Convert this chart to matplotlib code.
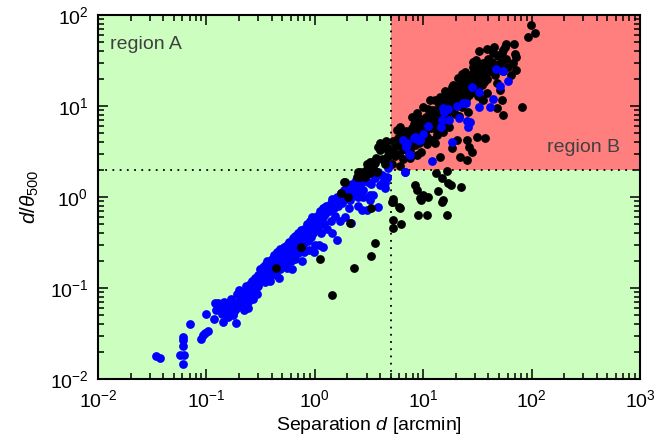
import numpy as np
import matplotlib
matplotlib.use("Agg")
import matplotlib.pyplot as plt
from matplotlib.patches import Rectangle

plt.rcParams['font.family'] = ['Liberation Sans', 'DejaVu Sans']
plt.rcParams['mathtext.fontset'] = 'custom'
plt.rcParams['mathtext.rm'] = 'Liberation Sans'
plt.rcParams['mathtext.it'] = 'Liberation Sans:italic'
plt.rcParams['mathtext.bf'] = 'Liberation Sans:bold'

# ---------------- data ----------------
sep_cut = 5.0
ratio_cut = 2.0
x_range = (1e-2, 1e3)
y_range = (1e-2, 1e2)

# blue sample: low-separation end
blue_low_x = [0.0343, 0.0373, 0.0604, 0.057, 0.062, 0.0604, 0.0612, 0.0612, 0.0701, 0.0886, 0.0925, 0.097,
              0.104, 0.099, 0.117, 0.123, 0.135, 0.129, 0.120, 0.143, 0.154, 0.171, 0.188, 0.177]
blue_low_y = [0.0179, 0.0170, 0.0145, 0.0184, 0.0184, 0.0232, 0.0292, 0.0268, 0.0402, 0.0273, 0.0305, 0.0323,
              0.0334, 0.0518, 0.0456, 0.0573, 0.0623, 0.0689, 0.0689, 0.0426, 0.0527, 0.0598, 0.0409, 0.0505]

# blue sample: main band
blue_band_x = [0.13, 0.14, 0.145, 0.15, 0.16, 0.158,
               0.17, 0.18, 0.185, 0.19, 0.2, 0.195, 0.175, 0.2,
               0.21, 0.215, 0.22, 0.225, 0.23, 0.235, 0.24, 0.245, 0.25, 0.25, 0.22, 0.24,
               0.26, 0.265, 0.27, 0.275, 0.28, 0.285, 0.29, 0.3, 0.3, 0.31, 0.31, 0.32, 0.27, 0.29,
               0.33, 0.34, 0.34, 0.35, 0.36, 0.36, 0.37, 0.38, 0.38, 0.39, 0.4, 0.4, 0.35, 0.39,
               0.41, 0.42, 0.43, 0.44, 0.45, 0.46, 0.47, 0.48, 0.48, 0.5, 0.5, 0.44, 0.47,
               0.52, 0.53, 0.54, 0.55, 0.56, 0.58, 0.58, 0.6, 0.6, 0.62, 0.63, 0.55, 0.62,
               0.65, 0.66, 0.68, 0.7, 0.7, 0.72, 0.74, 0.75, 0.77, 0.78, 0.8, 0.8, 0.66, 0.76,
               0.83, 0.85, 0.86, 0.88, 0.9, 0.92, 0.93, 0.95, 0.97, 1.0, 1.0, 0.88, 0.98,
               1.05, 1.07, 1.1, 1.12, 1.15, 1.18, 1.2, 1.22, 1.25, 1.28, 1.3, 1.1, 1.2,
               1.35, 1.4, 1.42, 1.45, 1.5, 1.55, 1.6, 1.62, 1.68, 1.45, 1.7, 1.6,
               1.75, 1.8, 1.85, 1.9, 2.0, 2.05, 2.1, 2.2, 1.9, 2.15,
               2.3, 2.4, 2.5, 2.6, 2.7, 2.8, 2.9, 2.5, 2.75,
               3.1, 3.3, 3.4, 3.6, 3.8, 4.0, 4.2, 3.2, 4.4]
blue_band_y = [0.060, 0.052, 0.070, 0.058, 0.065, 0.048,
               0.075, 0.068, 0.058, 0.085, 0.072, 0.062, 0.052, 0.095,
               0.08, 0.066, 0.09, 0.075, 0.105, 0.085, 0.07, 0.095, 0.11, 0.08, 0.058, 0.06,
               0.10, 0.12, 0.09, 0.11, 0.13, 0.10, 0.12, 0.14, 0.105, 0.16, 0.125, 0.14, 0.075, 0.085,
               0.17, 0.13, 0.15, 0.18, 0.14, 0.2, 0.16, 0.19, 0.13, 0.17, 0.21, 0.15, 0.115, 0.12,
               0.18, 0.23, 0.16, 0.2, 0.25, 0.18, 0.22, 0.27, 0.16, 0.21, 0.24, 0.14, 0.13,
               0.28, 0.19, 0.25, 0.3, 0.22, 0.27, 0.32, 0.2, 0.25, 0.3, 0.35, 0.165, 0.16,
               0.27, 0.37, 0.31, 0.24, 0.4, 0.33, 0.28, 0.43, 0.36, 0.3, 0.45, 0.25, 0.21, 0.2,
               0.38, 0.5, 0.33, 0.42, 0.55, 0.36, 0.46, 0.6, 0.4, 0.5, 0.3, 0.26, 0.25,
               0.62, 0.45, 0.55, 0.7, 0.4, 0.6, 0.75, 0.5, 0.65, 0.8, 0.45, 0.3, 0.28,
               0.7, 0.85, 0.55, 0.95, 0.75, 0.62, 1.0, 0.8, 0.9, 0.4, 0.55, 0.34,
               1.1, 0.85, 1.2, 0.95, 1.3, 0.75, 1.1, 1.4, 0.6, 0.52,
               1.2, 1.55, 1.0, 1.35, 1.7, 1.2, 1.5, 0.8, 0.72,
               1.8, 1.4, 2.1, 1.6, 1.9, 1.35, 1.75, 1.05, 1.25]

# blue sample: near the cut corner
blue_corner_x = [2.35, 2.52, 2.11, 2.26, 2.8, 3.23, 3.47, 3.86, 3.0, 4.73, 6.79, 4.6, 4.26, 3.1,
                 6.5, 8.4, 9.3, 7.0, 7.6]
blue_corner_y = [1.19, 1.14, 0.93, 1.05, 1.0, 0.93, 1.05, 0.78, 0.72, 2.25, 1.90, 1.67, 1.47, 1.47,
                 4.2, 4.6, 4.2, 3.7, 2.9]

# blue sample: large separations
blue_high_x = [47.0, 54.8, 61, 51, 43.8, 32.4, 28, 32.7, 41.3, 23.1, 24.8, 20.4, 17.1, 15.1, 15.6,
               14.8, 17.4, 21.4, 25.2, 27, 26, 14.5, 11.1, 10.0, 8.3, 9.0, 7.1, 6.9, 7.4, 12.1,
               18.5, 6.8, 4.76, 4.44, 4.6]
blue_high_y = [25.5, 24.4, 18.8, 16.7, 11.9, 14.3, 16.3, 9.75, 9.7, 10.9, 10.7, 10.0, 9.2, 9.6, 8.65,
               7.0, 7.0, 7.3, 6.9, 6.6, 5.9, 5.9, 6.0, 4.9, 4.5, 4.2, 3.95, 3.57, 2.97, 2.49,
               4.05, 1.90, 2.07, 1.44, 1.6]

# black sample: main cluster (large separations)
black_main_x = [5.1, 5.3, 5.5, 5.6, 5.8, 6.0, 6.2, 6.4, 6.5, 6.7, 6.9, 7.0, 5.2, 6.1,
                7.2, 7.4, 7.6, 7.8, 8.0, 8.2, 8.4, 8.6, 8.8, 9.0, 9.2, 9.4, 9.6, 9.8, 10.0, 7.5, 8.7, 9.5,
                10.3, 10.6, 10.9, 11.2, 11.5, 11.8, 12.1, 12.4, 12.7, 13.0, 13.3, 13.6, 13.9, 10.8, 12.0, 13.5, 11.0, 12.9,
                14.2, 14.6, 15.0, 15.4, 15.8, 16.2, 16.6, 17.0, 17.5, 18.0, 18.5, 19.0, 19.5, 20.0, 15.2, 17.3, 16.0, 18.8,
                20.6, 21.2, 21.8, 22.4, 23.0, 23.6, 24.2, 24.8, 25.4, 26.0, 26.6, 20.8, 22.9, 25.8, 21.5,
                27.4, 28.2, 29.0, 29.8, 30.6, 31.4, 32.2, 33.0, 33.8, 34.6, 35.4, 28.5, 31.0, 35.0,
                37, 38.5, 40, 41.5, 43, 44.5, 46, 47.5, 49, 39, 45, 48,
                52, 55, 58, 61, 64, 67, 72, 57,
                81.5, 98, 107, 93, 68.9, 58, 70.3, 72.5, 53, 54, 32.7, 49.3, 12.9, 14.3, 18.3, 20.4, 25.2,
                26.4, 28, 21.8, 25.2, 31.1, 37.2, 53, 55, 47.6, 35.8, 38.5, 51, 5.7]
black_main_y = [3.2, 4.1, 2.8, 3.6, 4.5, 3.0, 3.9, 4.8, 2.6, 3.4, 4.2, 5.3, 2.3, 2.2,
                4.0, 5.0, 3.3, 5.8, 4.4, 6.3, 3.7, 5.2, 4.6, 6.8, 3.9, 5.6, 7.2, 4.9, 6.1, 2.7, 2.9, 3.1,
                5.2, 7.5, 4.6, 6.6, 8.2, 5.7, 7.0, 9.0, 6.1, 7.8, 5.3, 8.7, 10.2, 3.8, 4.2, 4.8, 9.3, 11.5,
                7.4, 9.6, 6.5, 11.0, 8.4, 12.4, 7.6, 10.1, 13.2, 9.0, 11.6, 14.3, 8.2, 12.0, 5.2, 5.9, 14.8, 17.0,
                10.5, 15.0, 12.6, 17.5, 9.8, 14.0, 19.0, 11.8, 16.2, 21.5, 13.2, 20.5, 22.5, 8.5, 7.8,
                18.0, 14.2, 23.0, 16.5, 26.0, 19.5, 13.0, 22.0, 28.5, 17.0, 24.5, 30.5, 32.0, 12.0,
                27, 20, 33, 24, 30, 38, 22, 28, 35, 42, 45, 18,
                30, 24, 33, 27, 22, 30, 25, 45,
                9.8, 77.6, 63, 56.8, 48, 48, 37.3, 34.8, 38.5, 41.2, 40.5, 36.3, 3.89, 2.77, 3.43, 4.2, 4.2,
                3.57, 3.15, 2.77, 2.55, 4.6, 4.42, 11.6, 7.96, 9.4, 11.6, 13.8, 15, 3.72]

black_core_x = [6.3, 6.8, 7.3, 7.9, 8.5, 9.1, 9.7, 10.4, 11.0, 11.7, 12.5, 13.2, 14.0, 14.9, 15.8,
                16.8, 17.8, 18.9, 20.1, 21.3, 22.6, 24.0, 25.5, 27.0, 28.7, 30.5, 32.4, 34.4, 36.5, 38.8,
                6.6, 7.1, 7.7, 8.3, 8.9, 9.5, 10.1, 10.8, 11.5, 12.2, 13.0, 13.8, 14.6, 15.5, 16.5,
                17.5, 18.6, 19.7, 21.0, 22.3, 23.7, 25.2, 26.8, 28.4, 30.2, 32.0, 34.0, 36.0]
black_core_y = [3.6, 4.3, 4.6, 4.9, 5.4, 5.5, 6.3, 6.6, 7.2, 7.0, 8.1, 8.3, 9.0, 9.5, 10.2,
                10.5, 11.3, 12.2, 12.8, 13.5, 14.8, 15.2, 16.0, 17.4, 18.6, 19.2, 20.8, 21.5, 23.7, 24.6,
                3.4, 3.9, 4.1, 4.6, 5.0, 5.9, 5.6, 6.0, 6.4, 7.6, 7.2, 7.9, 8.4, 9.8, 9.2,
                10.8, 10.0, 11.6, 11.2, 13.8, 12.5, 14.5, 15.6, 15.0, 17.5, 16.5, 19.5, 18.2]

black_edge_x = [4.44, 5.7, 6.1, 7.8, 8.7, 10, 11.6, 14.3, 16.5, 18.3, 21.8, 24.3, 29, 35.8, 42.9, 31.1, 38.5]
black_edge_y = [3.57, 5.4, 5.9, 7.6, 8.3, 9.8, 11.6, 12.6, 12.6, 16.3, 19.3, 23.8, 27, 29.4, 30.7, 23.8, 23.8]

# black sample: points outside region B (drawn over the blue band)
black_low_x = [0.436, 0.746, 1.11, 2.11, 1.43, 2.28, 3.3, 3.59, 5.3, 3.28, 1.73, 1.87, 2.52, 2.61, 2.9,
               3.23, 3.47, 3.72, 3.85, 4.76, 4.6, 4.94, 5.3, 6.0, 3.23, 3.99, 3.59, 3.35, 2.61, 2.43,
               1.9, 2.04, 5.1, 6.1, 8.4, 8.7, 9.3, 9.6, 5.3, 6.3, 9.0, 10.8, 11.1,
               13.1, 14.8, 16.5, 17.1, 17.9, 22.2, 13.8, 14.8, 15.3, 10, 16.5, 5.3,
               4.0, 4.3, 4.5, 4.7, 4.2, 3.7, 4.4, 3.1, 2.9, 3.0]
black_low_y = [0.164, 0.284, 0.208, 0.514, 0.083, 0.166, 0.226, 0.315, 0.453, 0.75, 1.10, 1.45, 1.87, 1.64, 1.67,
               1.82, 2.07, 1.90, 3.57, 3.43, 2.77, 2.9, 0.89, 0.78, 2.44, 3.28, 2.34, 2.44, 1.90, 1.67,
               1.47, 1.0, 0.89, 0.75, 1.35, 1.19, 0.97, 0.93, 0.56, 0.51, 0.63, 0.63, 1.0,
               1.85, 1.6, 1.94, 1.44, 1.35, 1.28, 1.17, 0.89, 0.93, 1.05, 0.63, 0.95,
               3.9, 3.6, 4.1, 3.2, 2.6, 2.7, 2.3, 2.1, 1.95, 2.3]

# ---------------- plot ----------------
fig = plt.figure(figsize=(6.65, 4.41), dpi=100)
ax = fig.add_axes([0.1474, 0.1406, 0.815, 0.8254])
ax.set_xscale('log')
ax.set_yscale('log')
ax.set_xlim(*x_range)
ax.set_ylim(*y_range)
ax.set_facecolor('#CCFFBF')

ax.add_patch(Rectangle((sep_cut, ratio_cut), x_range[1] - sep_cut, y_range[1] - ratio_cut,
                       facecolor='#FF7F7F', edgecolor='none', zorder=0))
ax.axvline(sep_cut, color='black', ls=(0, (1, 3)), lw=1.3, zorder=1)
ax.axhline(ratio_cut, color='black', ls=(0, (1, 3)), lw=1.3, zorder=1)

ms = 40
ax.scatter(black_main_x + black_core_x + black_edge_x,
           black_main_y + black_core_y + black_edge_y,
           s=ms, c='black', linewidths=0, zorder=2)
ax.scatter(blue_low_x + blue_band_x + blue_corner_x + blue_high_x,
           blue_low_y + blue_band_y + blue_corner_y + blue_high_y,
           s=ms, c='#0000FF', linewidths=0, zorder=3)
ax.scatter(black_low_x, black_low_y, s=ms, c='black', linewidths=0, zorder=4)

ax.text(0.022, 0.918, 'region A', transform=ax.transAxes, fontsize=14, color='#404040',
        ha='left', va='center')
ax.text(0.963, 0.635, 'region B', transform=ax.transAxes, fontsize=14, color='#404040',
        ha='right', va='center')

ax.set_xlabel('Separation $d$ [arcmin]', fontsize=14, labelpad=3)
ax.set_ylabel(r'$d/\theta_{500}$', fontsize=15, labelpad=6)

for s in ax.spines.values():
    s.set_linewidth(1.5)
ax.tick_params(which='both', direction='in', top=True, right=True, labelsize=14, width=1.1)
ax.tick_params(which='major', length=7, pad=7)
ax.tick_params(which='minor', length=4)

fig.savefig('out.png', dpi=100)
